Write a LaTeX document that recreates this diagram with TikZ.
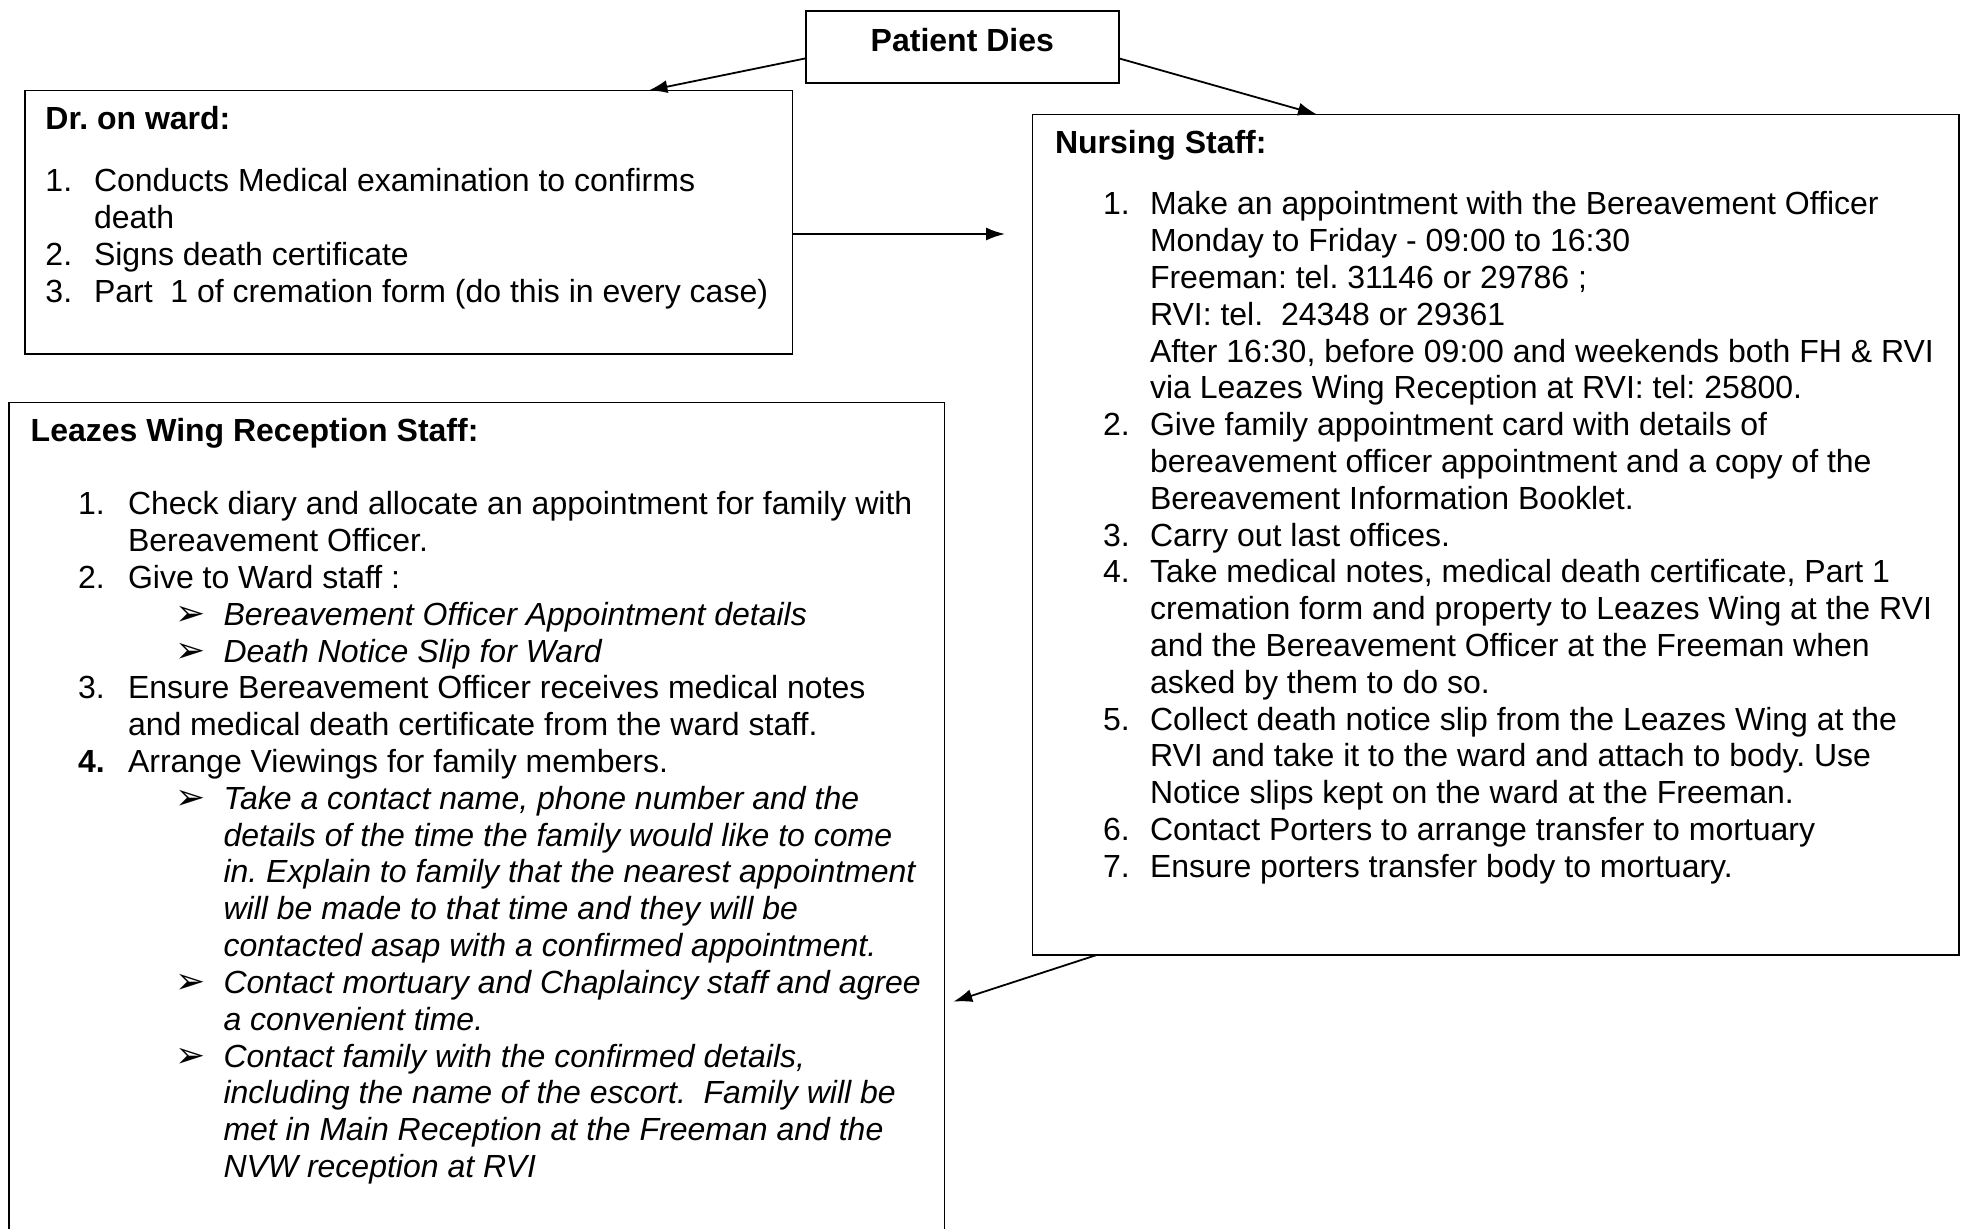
\documentclass[tikz,border=0pt]{standalone}
\usepackage{fontspec}
\setmainfont{Liberation Sans}
\newfontfamily\dejavu{DejaVu Sans}
\usetikzlibrary{arrows.meta}
\frenchspacing
\newcounter{lnc}
\newcommand\Ln[4]{\stepcounter{lnc}\node[txt] (ln\arabic{lnc}) at (#1,{#2+#3*36.8}) {#4};}
\newcommand\bul{{\dejavu\fontsize{18pt}{18pt}\selectfont ➢}}
\begin{document}
\begin{tikzpicture}[x=0.5pt,y=-0.5pt,
  box/.style={draw,line width=0.9pt,inner sep=0,outer sep=0,anchor=north west},
  txt/.style={anchor=base west,inner sep=0,outer sep=0,font=\fontsize{16pt}{18.4pt}\selectfont\frenchspacing},
  tb/.style={txt,font=\bfseries\fontsize{16pt}{18.4pt}\selectfont\frenchspacing},
  arr/.style={line width=0.9pt,-{Latex[length=9.5pt,width=6.5pt]}}]
\useasboundingbox (0,0) rectangle (1967,1229);
\fill[white] (0,0) rectangle (1967,1229);
% boxes
\node[box,minimum width=156.35pt,minimum height=36pt] (pd) at (806,10.7) {};
\node[box,minimum width=383.9pt,minimum height=131.75pt] (dr) at (24.7,90.5) {};
\node[box,minimum width=463.4pt,minimum height=420.25pt] (ns) at (1032.5,114.5) {};
\node[box,minimum width=467.6pt,minimum height=418.75pt] (lw) at (9.3,402.5) {};
% Patient dies
\node[tb,anchor=base] (pdt) at (962.3,51.7) {Patient Dies};
% Dr on ward
\node[tb] (drt) at (45.5,130) {Dr. on ward:};
\Ln{45.5}{191.7}{0}{1.}\Ln{94}{191.7}{0}{Conducts Medical examination to confirms}
\Ln{94}{191.7}{1}{death}
\Ln{45.5}{191.7}{2}{2.}\Ln{94}{191.7}{2}{Signs death certificate}
\Ln{45.5}{191.7}{3}{3.}\Ln{94}{191.7}{3}{Part\ \ 1 of cremation form (do this in every case)}
% Nursing staff
\node[tb] (nst) at (1055,154) {Nursing Staff:};
\Ln{1103}{215}{0}{1.}\Ln{1150}{215}{0}{Make an appointment with the Bereavement Officer}
\Ln{1150}{215}{1}{Monday to Friday - 09:00 to 16:30}
\Ln{1150}{215}{2}{Freeman: tel. 31146 or 29786 ;}
\Ln{1150}{215}{3}{RVI: tel.\ \ 24348 or 29361}
\Ln{1150}{215}{4}{After 16:30, before 09:00 and weekends both FH \& RVI}
\Ln{1150}{215}{5}{via Leazes Wing Reception at RVI: tel: 25800.}
\Ln{1103}{215}{6}{2.}\Ln{1150}{215}{6}{Give family appointment card with details of}
\Ln{1150}{215}{7}{bereavement officer appointment and a copy of the}
\Ln{1150}{215}{8}{Bereavement Information Booklet.}
\Ln{1103}{215}{9}{3.}\Ln{1150}{215}{9}{Carry out last offices.}
\Ln{1103}{215}{10}{4.}\Ln{1150}{215}{10}{Take medical notes, medical death certificate, Part 1}
\Ln{1150}{215}{11}{cremation form and property to Leazes Wing at the RVI}
\Ln{1150}{215}{12}{and the Bereavement Officer at the Freeman when}
\Ln{1150}{215}{13}{asked by them to do so.}
\Ln{1103}{215}{14}{5.}\Ln{1150}{215}{14}{Collect death notice slip from the Leazes Wing at the}
\Ln{1150}{215}{15}{RVI and take it to the ward and attach to body. Use}
\Ln{1150}{215}{16}{Notice slips kept on the ward at the Freeman.}
\Ln{1103}{215}{17}{6.}\Ln{1150}{215}{17}{Contact Porters to arrange transfer to mortuary}
\Ln{1103}{215}{18}{7.}\Ln{1150}{215}{18}{Ensure porters transfer body to mortuary.}
% Leazes wing
\node[tb] (lwt) at (30.7,442) {Leazes Wing Reception Staff:};
\Ln{78}{515}{0}{1.}\Ln{128}{515}{0}{Check diary and allocate an appointment for family with}
\Ln{128}{515}{1}{Bereavement Officer.}
\Ln{78}{515}{2}{2.}\Ln{128}{515}{2}{Give to Ward staff :}
\Ln{175}{515}{3}{\bul}\Ln{223.5}{515}{3}{\itshape Bereavement Officer Appointment details}
\Ln{175}{515}{4}{\bul}\Ln{223.5}{515}{4}{\itshape Death Notice Slip for Ward}
\Ln{78}{515}{5}{3.}\Ln{128}{515}{5}{Ensure Bereavement Officer receives medical notes}
\Ln{128}{515}{6}{and medical death certificate from the ward staff.}
\Ln{78}{515}{7}{\bfseries 4.}\Ln{128}{515}{7}{Arrange Viewings for family members.}
\Ln{175}{515}{8}{\bul}\Ln{223.5}{515}{8}{\itshape Take a contact name, phone number and the}
\Ln{223.5}{515}{9}{\itshape details of the time the family would like to come}
\Ln{223.5}{515}{10}{\itshape in. Explain to family that the nearest appointment}
\Ln{223.5}{515}{11}{\itshape will be made to that time and they will be}
\Ln{223.5}{515}{12}{\itshape contacted asap with a confirmed appointment.}
\Ln{175}{515}{13}{\bul}\Ln{223.5}{515}{13}{\itshape Contact mortuary and Chaplaincy staff and agree}
\Ln{223.5}{515}{14}{\itshape a convenient time.}
\Ln{175}{515}{15}{\bul}\Ln{223.5}{515}{15}{\itshape Contact family with the confirmed details,}
\Ln{223.5}{515}{16}{\itshape including the name of the escort.\ \ Family will be}
\Ln{223.5}{515}{17}{\itshape met in Main Reception at the Freeman and the}
\Ln{223.5}{515}{18}{\itshape NVW reception at RVI}
% connectors
\coordinate (t3) at (1005,234);
\coordinate (t4) at (953.3,1001.7);
\draw[arr] ([yshift=-5.8pt]pd.west) -- ([xshift=311.9pt]dr.north west);
\draw[arr] ([yshift=-5.8pt]pd.east) -- ([xshift=142.25pt]ns.north west);
\draw[arr] ([yshift=-5.9pt]dr.east) -- (t3);
\draw[arr] ([xshift=32.1pt]ns.south west) -- (t4);
\end{tikzpicture}
\end{document}
